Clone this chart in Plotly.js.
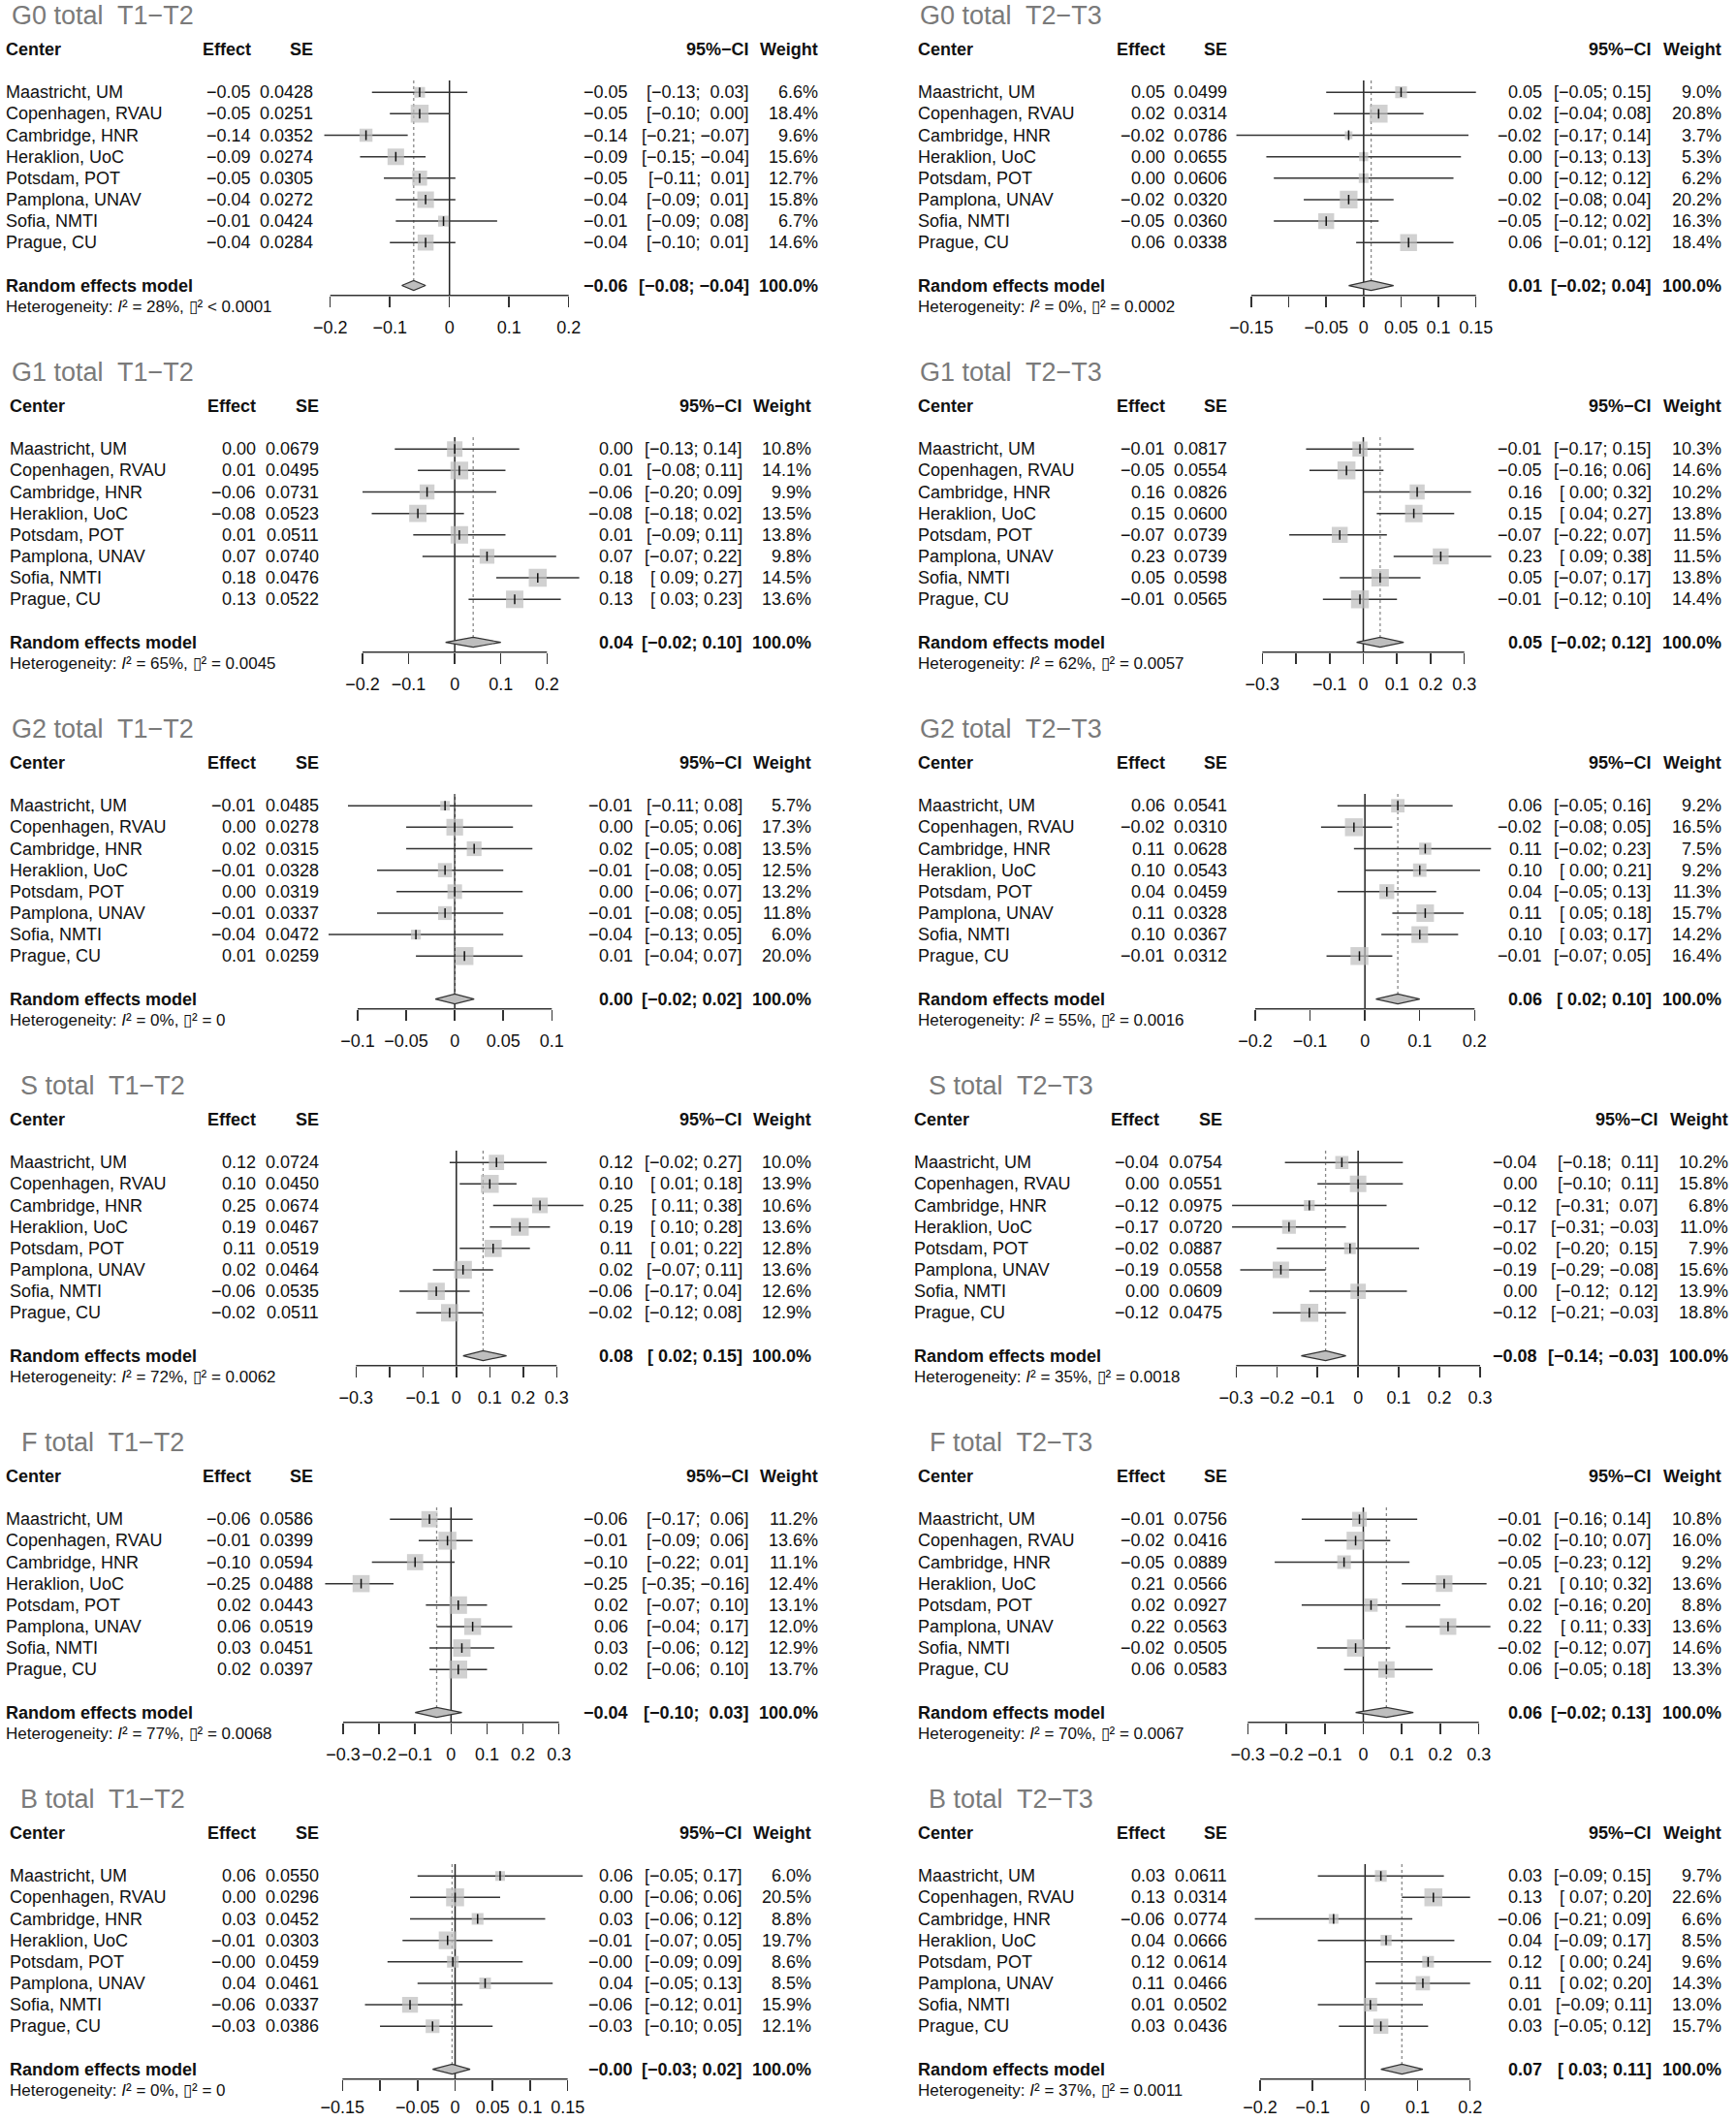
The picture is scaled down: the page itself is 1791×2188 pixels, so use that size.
<!DOCTYPE html>
<html><head><meta charset="utf-8">
<script src="https://cdn.plot.ly/plotly-3.0.1.min.js"></script>
<style>html,body{margin:0;padding:0;background:#fff}</style>
</head><body><div id="chart" style="width:1791px;height:2188px"></div>
<script>
// ---------------- DATA ----------------
const centers = ["Maastricht, UM","Copenhagen, RVAU","Cambridge, HNR","Heraklion, UoC","Potsdam, POT","Pamplona, UNAV","Sofia, NMTI","Prague, CU"];

// G0 total T1-T2
const g0_t12_effect = [-0.05,-0.05,-0.14,-0.09,-0.05,-0.04,-0.01,-0.04];
const g0_t12_se     = [0.0428,0.0251,0.0352,0.0274,0.0305,0.0272,0.0424,0.0284];
const g0_t12_lower  = [-0.13,-0.10,-0.21,-0.15,-0.11,-0.09,-0.09,-0.10];
const g0_t12_upper  = [0.03,0.00,-0.07,-0.04,0.01,0.01,0.08,0.01];
const g0_t12_weight = [6.6,18.4,9.6,15.6,12.7,15.8,6.7,14.6];
const g0_t12_pooled = [-0.06,-0.08,-0.04];
const g0_t12_het    = [28,0.00005];
const g0_t12_ticks  = [-0.2,-0.1,0,0.1,0.2];
const g0_t12_ticklabels = ["\u22120.2","\u22120.1","0","0.1","0.2"];

// G0 total T2-T3
const g0_t23_effect = [0.05,0.02,-0.02,0.00,0.00,-0.02,-0.05,0.06];
const g0_t23_se     = [0.0499,0.0314,0.0786,0.0655,0.0606,0.0320,0.0360,0.0338];
const g0_t23_lower  = [-0.05,-0.04,-0.17,-0.13,-0.12,-0.08,-0.12,-0.01];
const g0_t23_upper  = [0.15,0.08,0.14,0.13,0.12,0.04,0.02,0.12];
const g0_t23_weight = [9.0,20.8,3.7,5.3,6.2,20.2,16.3,18.4];
const g0_t23_pooled = [0.01,-0.02,0.04];
const g0_t23_het    = [0,0.0002];
const g0_t23_ticks  = [-0.15,-0.1,-0.05,0,0.05,0.1,0.15];
const g0_t23_ticklabels = ["\u22120.15","","\u22120.05","0","0.05","0.1","0.15"];

// G1 total T1-T2
const g1_t12_effect = [0.00,0.01,-0.06,-0.08,0.01,0.07,0.18,0.13];
const g1_t12_se     = [0.0679,0.0495,0.0731,0.0523,0.0511,0.0740,0.0476,0.0522];
const g1_t12_lower  = [-0.13,-0.08,-0.20,-0.18,-0.09,-0.07,0.09,0.03];
const g1_t12_upper  = [0.14,0.11,0.09,0.02,0.11,0.22,0.27,0.23];
const g1_t12_weight = [10.8,14.1,9.9,13.5,13.8,9.8,14.5,13.6];
const g1_t12_pooled = [0.04,-0.02,0.10];
const g1_t12_het    = [65,0.0045];
const g1_t12_ticks  = [-0.2,-0.1,0,0.1,0.2];
const g1_t12_ticklabels = ["\u22120.2","\u22120.1","0","0.1","0.2"];

// G1 total T2-T3
const g1_t23_effect = [-0.01,-0.05,0.16,0.15,-0.07,0.23,0.05,-0.01];
const g1_t23_se     = [0.0817,0.0554,0.0826,0.0600,0.0739,0.0739,0.0598,0.0565];
const g1_t23_lower  = [-0.17,-0.16,0.00,0.04,-0.22,0.09,-0.07,-0.12];
const g1_t23_upper  = [0.15,0.06,0.32,0.27,0.07,0.38,0.17,0.10];
const g1_t23_weight = [10.3,14.6,10.2,13.8,11.5,11.5,13.8,14.4];
const g1_t23_pooled = [0.05,-0.02,0.12];
const g1_t23_het    = [62,0.0057];
const g1_t23_ticks  = [-0.3,-0.2,-0.1,0,0.1,0.2,0.3];
const g1_t23_ticklabels = ["\u22120.3","","\u22120.1","0","0.1","0.2","0.3"];

// G2 total T1-T2
const g2_t12_effect = [-0.01,0.00,0.02,-0.01,0.00,-0.01,-0.04,0.01];
const g2_t12_se     = [0.0485,0.0278,0.0315,0.0328,0.0319,0.0337,0.0472,0.0259];
const g2_t12_lower  = [-0.11,-0.05,-0.05,-0.08,-0.06,-0.08,-0.13,-0.04];
const g2_t12_upper  = [0.08,0.06,0.08,0.05,0.07,0.05,0.05,0.07];
const g2_t12_weight = [5.7,17.3,13.5,12.5,13.2,11.8,6.0,20.0];
const g2_t12_pooled = [0.00,-0.02,0.02];
const g2_t12_het    = [0,0];
const g2_t12_ticks  = [-0.1,-0.05,0,0.05,0.1];
const g2_t12_ticklabels = ["\u22120.1","\u22120.05","0","0.05","0.1"];

// G2 total T2-T3
const g2_t23_effect = [0.06,-0.02,0.11,0.10,0.04,0.11,0.10,-0.01];
const g2_t23_se     = [0.0541,0.0310,0.0628,0.0543,0.0459,0.0328,0.0367,0.0312];
const g2_t23_lower  = [-0.05,-0.08,-0.02,0.00,-0.05,0.05,0.03,-0.07];
const g2_t23_upper  = [0.16,0.05,0.23,0.21,0.13,0.18,0.17,0.05];
const g2_t23_weight = [9.2,16.5,7.5,9.2,11.3,15.7,14.2,16.4];
const g2_t23_pooled = [0.06,0.02,0.10];
const g2_t23_het    = [55,0.0016];
const g2_t23_ticks  = [-0.2,-0.1,0,0.1,0.2];
const g2_t23_ticklabels = ["\u22120.2","\u22120.1","0","0.1","0.2"];

// S total T1-T2
const s_t12_effect = [0.12,0.10,0.25,0.19,0.11,0.02,-0.06,-0.02];
const s_t12_se     = [0.0724,0.0450,0.0674,0.0467,0.0519,0.0464,0.0535,0.0511];
const s_t12_lower  = [-0.02,0.01,0.11,0.10,0.01,-0.07,-0.17,-0.12];
const s_t12_upper  = [0.27,0.18,0.38,0.28,0.22,0.11,0.04,0.08];
const s_t12_weight = [10.0,13.9,10.6,13.6,12.8,13.6,12.6,12.9];
const s_t12_pooled = [0.08,0.02,0.15];
const s_t12_het    = [72,0.0062];
const s_t12_ticks  = [-0.3,-0.2,-0.1,0,0.1,0.2,0.3];
const s_t12_ticklabels = ["\u22120.3","","\u22120.1","0","0.1","0.2","0.3"];

// S total T2-T3
const s_t23_effect = [-0.04,0.00,-0.12,-0.17,-0.02,-0.19,0.00,-0.12];
const s_t23_se     = [0.0754,0.0551,0.0975,0.0720,0.0887,0.0558,0.0609,0.0475];
const s_t23_lower  = [-0.18,-0.10,-0.31,-0.31,-0.20,-0.29,-0.12,-0.21];
const s_t23_upper  = [0.11,0.11,0.07,-0.03,0.15,-0.08,0.12,-0.03];
const s_t23_weight = [10.2,15.8,6.8,11.0,7.9,15.6,13.9,18.8];
const s_t23_pooled = [-0.08,-0.14,-0.03];
const s_t23_het    = [35,0.0018];
const s_t23_ticks  = [-0.3,-0.2,-0.1,0,0.1,0.2,0.3];
const s_t23_ticklabels = ["\u22120.3","\u22120.2","\u22120.1","0","0.1","0.2","0.3"];

// F total T1-T2
const f_t12_effect = [-0.06,-0.01,-0.10,-0.25,0.02,0.06,0.03,0.02];
const f_t12_se     = [0.0586,0.0399,0.0594,0.0488,0.0443,0.0519,0.0451,0.0397];
const f_t12_lower  = [-0.17,-0.09,-0.22,-0.35,-0.07,-0.04,-0.06,-0.06];
const f_t12_upper  = [0.06,0.06,0.01,-0.16,0.10,0.17,0.12,0.10];
const f_t12_weight = [11.2,13.6,11.1,12.4,13.1,12.0,12.9,13.7];
const f_t12_pooled = [-0.04,-0.10,0.03];
const f_t12_het    = [77,0.0068];
const f_t12_ticks  = [-0.3,-0.2,-0.1,0,0.1,0.2,0.3];
const f_t12_ticklabels = ["\u22120.3","\u22120.2","\u22120.1","0","0.1","0.2","0.3"];

// F total T2-T3
const f_t23_effect = [-0.01,-0.02,-0.05,0.21,0.02,0.22,-0.02,0.06];
const f_t23_se     = [0.0756,0.0416,0.0889,0.0566,0.0927,0.0563,0.0505,0.0583];
const f_t23_lower  = [-0.16,-0.10,-0.23,0.10,-0.16,0.11,-0.12,-0.05];
const f_t23_upper  = [0.14,0.07,0.12,0.32,0.20,0.33,0.07,0.18];
const f_t23_weight = [10.8,16.0,9.2,13.6,8.8,13.6,14.6,13.3];
const f_t23_pooled = [0.06,-0.02,0.13];
const f_t23_het    = [70,0.0067];
const f_t23_ticks  = [-0.3,-0.2,-0.1,0,0.1,0.2,0.3];
const f_t23_ticklabels = ["\u22120.3","\u22120.2","\u22120.1","0","0.1","0.2","0.3"];

// B total T1-T2
const b_t12_effect = [0.06,0.00,0.03,-0.01,-0.003,0.04,-0.06,-0.03];
const b_t12_se     = [0.0550,0.0296,0.0452,0.0303,0.0459,0.0461,0.0337,0.0386];
const b_t12_lower  = [-0.05,-0.06,-0.06,-0.07,-0.09,-0.05,-0.12,-0.10];
const b_t12_upper  = [0.17,0.06,0.12,0.05,0.09,0.13,0.01,0.05];
const b_t12_weight = [6.0,20.5,8.8,19.7,8.6,8.5,15.9,12.1];
const b_t12_pooled = [-0.004,-0.03,0.02];
const b_t12_het    = [0,0];
const b_t12_ticks  = [-0.15,-0.1,-0.05,0,0.05,0.1,0.15];
const b_t12_ticklabels = ["\u22120.15","","\u22120.05","0","0.05","0.1","0.15"];

// B total T2-T3
const b_t23_effect = [0.03,0.13,-0.06,0.04,0.12,0.11,0.01,0.03];
const b_t23_se     = [0.0611,0.0314,0.0774,0.0666,0.0614,0.0466,0.0502,0.0436];
const b_t23_lower  = [-0.09,0.07,-0.21,-0.09,0.00,0.02,-0.09,-0.05];
const b_t23_upper  = [0.15,0.20,0.09,0.17,0.24,0.20,0.11,0.12];
const b_t23_weight = [9.7,22.6,6.6,8.5,9.6,14.3,13.0,15.7];
const b_t23_pooled = [0.07,0.03,0.11];
const b_t23_het    = [37,0.0011];
const b_t23_ticks  = [-0.2,-0.1,0,0.1,0.2];
const b_t23_ticklabels = ["\u22120.2","\u22120.1","0","0.1","0.2"];

// ---------------- LAYOUT ----------------
const W = 1791, H = 2188;
const FONT = '"Liberation Sans", Arial, Helvetica, sans-serif';
const TXT = '#111';
const A0 = 304.7, STEP = 368;          // axis line pixel y of first row of panels, panel pitch
const ROW0 = -209.5, PITCH = 22.15;    // study row r sits at A + ROW0 + PITCH*r
const R_BOT = 10.361, R_TOP = -4.086;  // y range of every panel's row axis
const R_AXIS = -ROW0 / PITCH;          // row coordinate of the axis line
const STANDOFF = [6, 6, 6, 6, 6, 2];   // tick label standoff per panel row

const LEFT_A  = {center:8.6, effect:265.0, se:329.7, est:653.7, ci:767.2, weight:838.3, title:106, dom:[300,610]};
const LEFT_B  = {center:4.6, effect:259.5, se:324.3, est:648.7, ci:773.8, weight:845.0, title:106, dom:[300,610]};
const RIGHT_A = {center:946.3, effect:1202.9, se:1267.2, est:1591.5, ci:1705.2, weight:1777.0, title:1043, dom:[1250,1550]};
const RIGHT_B = {center:942.0, effect:1197.4, se:1261.8, est:1586.5, ci:1711.8, weight:1783.7, title:1043, dom:[1250,1550]};

const panels = [
  {title:"G0 total  T1\u2212T2", row:0, cols:LEFT_B,  tickPx:[340.7,586.7],  e:g0_t12_effect, se:g0_t12_se, lo:g0_t12_lower, hi:g0_t12_upper, w:g0_t12_weight, p:g0_t12_pooled, het:g0_t12_het, tv:g0_t12_ticks, tt:g0_t12_ticklabels},
  {title:"G0 total  T2\u2212T3", row:0, cols:RIGHT_A, tickPx:[1291,1522.7],  e:g0_t23_effect, se:g0_t23_se, lo:g0_t23_lower, hi:g0_t23_upper, w:g0_t23_weight, p:g0_t23_pooled, het:g0_t23_het, tv:g0_t23_ticks, tt:g0_t23_ticklabels},
  {title:"G1 total  T1\u2212T2", row:1, cols:LEFT_A,  tickPx:[374,564.3],    e:g1_t12_effect, se:g1_t12_se, lo:g1_t12_lower, hi:g1_t12_upper, w:g1_t12_weight, p:g1_t12_pooled, het:g1_t12_het, tv:g1_t12_ticks, tt:g1_t12_ticklabels},
  {title:"G1 total  T2\u2212T3", row:1, cols:RIGHT_A, tickPx:[1302.3,1510.7],e:g1_t23_effect, se:g1_t23_se, lo:g1_t23_lower, hi:g1_t23_upper, w:g1_t23_weight, p:g1_t23_pooled, het:g1_t23_het, tv:g1_t23_ticks, tt:g1_t23_ticklabels},
  {title:"G2 total  T1\u2212T2", row:2, cols:LEFT_A,  tickPx:[369,569.3],    e:g2_t12_effect, se:g2_t12_se, lo:g2_t12_lower, hi:g2_t12_upper, w:g2_t12_weight, p:g2_t12_pooled, het:g2_t12_het, tv:g2_t12_ticks, tt:g2_t12_ticklabels},
  {title:"G2 total  T2\u2212T3", row:2, cols:RIGHT_A, tickPx:[1295,1521.3],  e:g2_t23_effect, se:g2_t23_se, lo:g2_t23_lower, hi:g2_t23_upper, w:g2_t23_weight, p:g2_t23_pooled, het:g2_t23_het, tv:g2_t23_ticks, tt:g2_t23_ticklabels},
  {title:"S total  T1\u2212T2",  row:3, cols:LEFT_A,  tickPx:[367.3,574.3],  e:s_t12_effect, se:s_t12_se, lo:s_t12_lower, hi:s_t12_upper, w:s_t12_weight, p:s_t12_pooled, het:s_t12_het, tv:s_t12_ticks, tt:s_t12_ticklabels},
  {title:"S total  T2\u2212T3",  row:3, cols:RIGHT_B, tickPx:[1275.3,1527],  e:s_t23_effect, se:s_t23_se, lo:s_t23_lower, hi:s_t23_upper, w:s_t23_weight, p:s_t23_pooled, het:s_t23_het, tv:s_t23_ticks, tt:s_t23_ticklabels},
  {title:"F total  T1\u2212T2",  row:4, cols:LEFT_B,  tickPx:[354,576.7],    e:f_t12_effect, se:f_t12_se, lo:f_t12_lower, hi:f_t12_upper, w:f_t12_weight, p:f_t12_pooled, het:f_t12_het, tv:f_t12_ticks, tt:f_t12_ticklabels},
  {title:"F total  T2\u2212T3",  row:4, cols:RIGHT_A, tickPx:[1287.3,1525.7],e:f_t23_effect, se:f_t23_se, lo:f_t23_lower, hi:f_t23_upper, w:f_t23_weight, p:f_t23_pooled, het:f_t23_het, tv:f_t23_ticks, tt:f_t23_ticklabels},
  {title:"B total  T1\u2212T2",  row:5, cols:LEFT_A,  tickPx:[353.3,585.7],  e:b_t12_effect, se:b_t12_se, lo:b_t12_lower, hi:b_t12_upper, w:b_t12_weight, p:b_t12_pooled, het:b_t12_het, tv:b_t12_ticks, tt:b_t12_ticklabels},
  {title:"B total  T2\u2212T3",  row:5, cols:RIGHT_A, tickPx:[1300,1516.7],  e:b_t23_effect, se:b_t23_se, lo:b_t23_lower, hi:b_t23_upper, w:b_t23_weight, p:b_t23_pooled, het:b_t23_het, tv:b_t23_ticks, tt:b_t23_ticklabels}
];

const fmt = (v, d) => v.toFixed(d).replace('-', '\u2212');
const ypap = v => 1 - v / H;

function ann(x, y, text, anchor, size, color) {
  return {xref:'paper', yref:'paper', x:x / W, y:ypap(y), text:text, xanchor:anchor, yanchor:'middle',
          showarrow:false, borderpad:0, font:{family:FONT, size:size || 18, color:color || TXT}};
}

function ciStrings(lo, hi, plo, phi) {
  const L = lo.concat([plo]), U = hi.concat([phi]);
  const padL = L.some(v => v < 0), padU = U.some(v => v < 0);
  const f = (v, pad) => (pad && !(v < 0) ? '\u00a0' : '') + fmt(v, 2);
  return L.map((v, i) => '[' + f(v, padL) + '; ' + f(U[i], padU) + ']');
}

function tauText(t) {
  if (t === 0) return '= 0';
  if (t < 0.0001) return '&lt; 0.0001';
  return '= ' + t.toFixed(4);
}

const traces = [], annotations = [], shapes = [];
const layout = {width:W, height:H, margin:{l:0,r:0,t:0,b:0}, paper_bgcolor:'#fff', plot_bgcolor:'rgba(0,0,0,0)',
                showlegend:false, annotations:annotations, shapes:shapes};

panels.forEach((P, k) => {
  const n = k + 1;
  const xid = n === 1 ? 'x' : 'x' + n, yid = n === 1 ? 'y' : 'y' + n;
  const xkey = n === 1 ? 'xaxis' : 'xaxis' + n, ykey = n === 1 ? 'yaxis' : 'yaxis' + n;
  const A = A0 + STEP * P.row;
  const C = P.cols;
  const t0 = P.tv[0], t1 = P.tv[P.tv.length - 1];
  const s = (P.tickPx[1] - P.tickPx[0]) / (t1 - t0);
  const z = P.tickPx[0] - t0 * s;
  const rowY = r => A + ROW0 + PITCH * r;

  const majVals = P.tv.filter((v, i) => P.tt[i] !== '');
  const majText = P.tt.filter(t => t !== '');
  const minVals = P.tv.filter((v, i) => P.tt[i] === '');

  const xa = {domain:[C.dom[0] / W, C.dom[1] / W], range:[(C.dom[0] - z) / s, (C.dom[1] - z) / s],
    anchor:'free', position:ypap(A), side:'bottom', showgrid:false, zeroline:false, showline:false,
    ticks:'outside', ticklen:11, tickwidth:1.5, tickcolor:'#333', tickmode:'array', tickvals:majVals, ticktext:majText,
    tickangle:0, tickfont:{family:FONT, size:18, color:TXT}, ticklabelstandoff:STANDOFF[P.row], fixedrange:true};
  if (minVals.length) {
    xa.minor = {tickmode:'array', tickvals:minVals, ticks:'outside', ticklen:11, tickwidth:1.5, tickcolor:'#333', showgrid:false};
  }
  layout[xkey] = xa;
  layout[ykey] = {domain:[ypap(A + 20), ypap(A - 300)], range:[R_BOT, R_TOP], visible:false, fixedrange:true};

  const rows = P.e.map((_, i) => i);
  const wmax = Math.max.apply(null, P.w);

  // CI segments
  const cx = [], cy = [];
  P.lo.forEach((l, i) => { cx.push(l, P.hi[i], null); cy.push(i, i, null); });
  traces.push({type:'scatter', mode:'lines', x:cx, y:cy, xaxis:xid, yaxis:yid,
               line:{color:'#333', width:1.5}, hoverinfo:'skip'});
  // squares
  traces.push({type:'scatter', mode:'markers', x:P.e, y:rows, xaxis:xid, yaxis:yid, hoverinfo:'skip',
               marker:{symbol:'square', color:'#BEBEBE', size:P.w.map(v => 18.5 * Math.sqrt(v / wmax)), line:{width:0}}});
  // estimate ticks
  traces.push({type:'scatter', mode:'markers', x:P.e, y:rows, xaxis:xid, yaxis:yid, hoverinfo:'skip',
               marker:{symbol:'line-ns', size:7, color:'#111', line:{width:1.5, color:'#111'}}});
  // pooled diamond
  const d = 0.23;
  traces.push({type:'scatter', mode:'lines', xaxis:xid, yaxis:yid, hoverinfo:'skip',
               x:[P.p[1], P.p[0], P.p[2], P.p[0], P.p[1]], y:[9, 9 - d, 9, 9 + d, 9],
               fill:'toself', fillcolor:'#BEBEBE', line:{color:'#333', width:1.2}});

  // reference lines and axis baseline
  shapes.push({type:'line', xref:xid, yref:yid, x0:0, x1:0, y0:-0.55, y1:R_AXIS, layer:'below', line:{color:'#222', width:1.5}});
  shapes.push({type:'line', xref:xid, yref:yid, x0:P.p[0], x1:P.p[0], y0:-0.55, y1:9, layer:'below', line:{color:'#888', width:1.3, dash:'dot'}});
  shapes.push({type:'line', xref:xid, yref:yid, x0:t0, x1:t1, y0:R_AXIS, y1:R_AXIS, line:{color:'#333', width:1.5}});

  // texts
  annotations.push(ann(C.title, A - 289, P.title, 'center', 27, '#7a7a7a'));
  const hy = rowY(-2);
  annotations.push(ann(C.center, hy, '<b>Center</b>', 'left'));
  annotations.push(ann(C.effect, hy, '<b>Effect</b>', 'right'));
  annotations.push(ann(C.se, hy, '<b>SE</b>', 'right'));
  annotations.push(ann(C.ci, hy, '<b>95%\u2212CI</b>', 'right'));
  annotations.push(ann(C.weight, hy, '<b>Weight</b>', 'right'));

  const cis = ciStrings(P.lo, P.hi, P.p[1], P.p[2]);
  centers.forEach((name, i) => {
    const y = rowY(i);
    annotations.push(ann(C.center, y, name, 'left'));
    annotations.push(ann(C.effect, y, fmt(P.e[i], 2), 'right'));
    annotations.push(ann(C.se, y, P.se[i].toFixed(4), 'right'));
    annotations.push(ann(C.est, y, fmt(P.e[i], 2), 'right'));
    annotations.push(ann(C.ci, y, cis[i], 'right'));
    annotations.push(ann(C.weight, y, P.w[i].toFixed(1) + '%', 'right'));
  });
  const ry = rowY(9);
  annotations.push(ann(C.center, ry, '<b>Random effects model</b>', 'left'));
  annotations.push(ann(C.est, ry, '<b>' + fmt(P.p[0], 2) + '</b>', 'right'));
  annotations.push(ann(C.ci, ry, '<b>' + cis[8] + '</b>', 'right'));
  annotations.push(ann(C.weight, ry, '<b>100.0%</b>', 'right'));
  annotations.push(ann(C.center, rowY(10),
    'Heterogeneity: <i>I</i>\u00B2 = ' + P.het[0] + '%, \u25AF\u00B2 ' + tauText(P.het[1]), 'left', 17));
});

Plotly.newPlot('chart', traces, layout, {staticPlot:true, displayModeBar:false});
</script></body></html>
